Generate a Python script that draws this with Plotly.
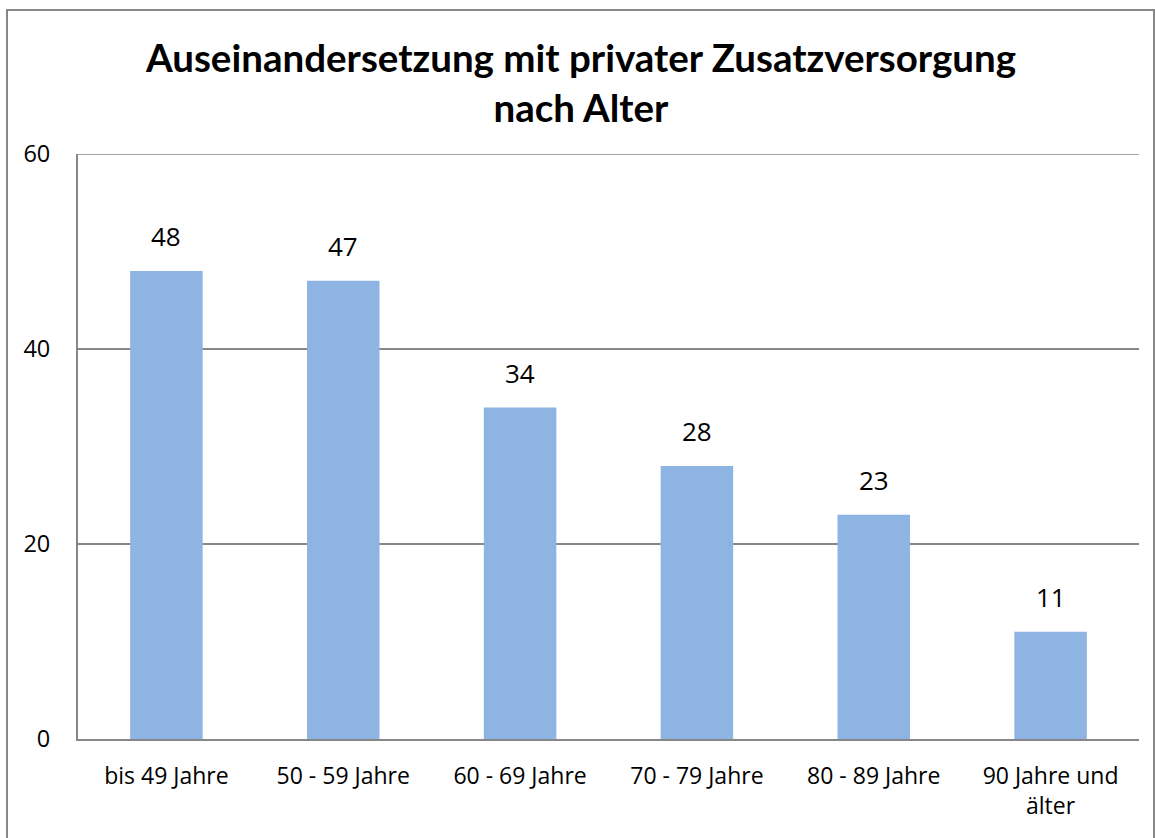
import plotly.graph_objects as go

# Altersgruppen und Anteile (in %)
categories = ["bis 49 Jahre", "50 - 59 Jahre", "60 - 69 Jahre", "70 - 79 Jahre",
              "80 - 89 Jahre", "90 Jahre und<br>älter"]
values = [48, 47, 34, 28, 23, 11]
y_ticks = [0, 20, 40, 60]

W, H = 1155, 838
ML, MR, MT, MB = 78, 16, 154, 99
TITLE_FONT = "Lato"
FONT = "Open Sans"
GRID = "#878787"
BAR = "#8EB4E3"

fig = go.Figure(go.Bar(
    x=categories, y=values, marker_color=BAR, marker_line_width=0,
    width=0.41, hoverinfo="x+y",
))

# Wertebeschriftungen über den Balken
for c, v in zip(categories, values):
    fig.add_annotation(x=c, y=v, text=str(v), showarrow=False, yanchor="bottom",
                       yshift=15, font=dict(family=FONT, size=26, color="#000"))

# Obere Gitterlinie bei 60
fig.add_shape(type="line", xref="paper", yref="y", x0=0, x1=1, y0=60, y1=60,
              line=dict(color=GRID, width=1.5))

# Rahmen um das gesamte Diagramm (in Papierkoordinaten umgerechnet)
pw, ph = W - ML - MR, H - MT - MB
def px_x(p):
    return (p - ML) / pw
def px_y(p):
    return (H - MB - p) / ph
fig.add_shape(type="rect", xref="paper", yref="paper",
              x0=px_x(7), x1=px_x(1154), y0=px_y(850), y1=px_y(10),
              line=dict(color=GRID, width=2), layer="below")

fig.update_layout(
    width=W, height=H,
    margin=dict(l=ML, r=MR, t=MT, b=MB),
    paper_bgcolor="white", plot_bgcolor="white",
    showlegend=False,
    title=dict(text="Auseinandersetzung mit privater Zusatzversorgung<br>nach Alter",
               x=581 / W, xref="container", xanchor="center", y=1 - 72 / H, yanchor="middle",
               font=dict(family=TITLE_FONT, size=38.5, color="#000", weight="bold")),
    font=dict(family=FONT, color="#000"),
)
fig.update_xaxes(showline=True, linecolor=GRID, linewidth=2, ticks="",
                 tickfont=dict(family=FONT, size=23), ticklabelstandoff=15)
fig.update_yaxes(range=[0, 60], tickvals=y_ticks, showgrid=True, gridcolor=GRID,
                 gridwidth=1.5, showline=True, linecolor=GRID, linewidth=2,
                 zeroline=False, ticks="", tickfont=dict(family=FONT, size=23.5),
                 ticklabelstandoff=21)

fig.write_html("out.html")
